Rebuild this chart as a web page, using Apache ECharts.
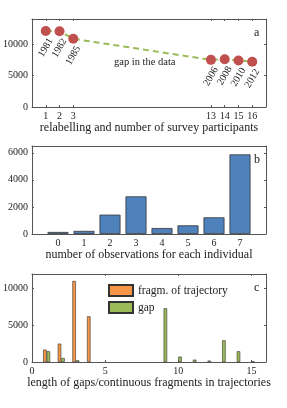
<!DOCTYPE html>
<html><head><meta charset="utf-8">
<script src="https://cdn.jsdelivr.net/npm/echarts@6/dist/echarts.min.js"></script>
<style>html,body{margin:0;padding:0;background:#fff}#c{width:287px;height:408px}</style>
</head><body><div id="c"></div>
<script>
// Panel a
const aX = [1, 2, 3, 13, 14, 15, 16];
const aYears = ['1981', '1982', '1985', '2006', '2008', '2010', '2012'];
const aVals = [12100, 12050, 10850, 7500, 7600, 7400, 7200];
// Panel b
const bCats = [0, 1, 2, 3, 4, 5, 6, 7];
const bVals = [150, 230, 1430, 2780, 440, 640, 1230, 5880];
// Panel c
const cFragX = [1, 2, 3, 4];
const cFragVals = [1690, 2500, 11040, 6230];
const cGapX = [1, 2, 3, 9, 10, 11, 12, 13, 14, 15];
const cGapVals = [1460, 550, 230, 7320, 730, 320, 190, 2960, 1460, 80];

const F = 'Liberation Serif, Times New Roman, serif';
const axisCol = '#555';
const tickFont = {fontFamily: F, fontSize: 10, color: '#222', margin: 4, formatter: v => String(v)};
const nameStyle = {fontFamily: F, fontSize: 12, color: '#222'};

function xAx(grid, min, max, ticks, name, showTicks) {
  return [{
    type: 'value', gridIndex: grid, min: min, max: max, position: 'bottom',
    name: name, nameLocation: 'middle', nameGap: 14, nameTextStyle: nameStyle,
    axisLine: {show: true, onZero: false, lineStyle: {color: axisCol}},
    axisTick: {show: showTicks, inside: true, length: 2, customValues: ticks, lineStyle: {color: axisCol}},
    axisLabel: Object.assign({customValues: ticks}, tickFont),
    splitLine: {show: false}
  }, {
    type: 'value', gridIndex: grid, min: min, max: max, position: 'top',
    axisLine: {show: true, onZero: false, lineStyle: {color: axisCol}},
    axisTick: {show: showTicks, inside: true, length: 2, customValues: ticks, lineStyle: {color: axisCol}},
    axisLabel: {show: false}, splitLine: {show: false}
  }];
}
function yAx(grid, max, ticks) {
  return [{
    type: 'value', gridIndex: grid, min: 0, max: max, position: 'left',
    axisLine: {show: true, onZero: false, lineStyle: {color: axisCol}},
    axisTick: {show: true, inside: true, length: 2, customValues: ticks, lineStyle: {color: axisCol}},
    axisLabel: Object.assign({customValues: ticks}, tickFont),
    splitLine: {show: false}
  }, {
    type: 'value', gridIndex: grid, min: 0, max: max, position: 'right',
    axisLine: {show: true, onZero: false, lineStyle: {color: axisCol}},
    axisTick: {show: true, inside: true, length: 2, customValues: ticks, lineStyle: {color: axisCol}},
    axisLabel: {show: false}, splitLine: {show: false}
  }];
}

const chart = echarts.init(document.getElementById('c'), null, {renderer: 'canvas'});
const option = {
  animation: false,
  backgroundColor: '#fff',
  textStyle: {fontFamily: F},
  grid: [
    {left: 32, top: 19, width: 234, height: 88},
    {left: 32, top: 146, width: 234, height: 88},
    {left: 31, top: 274, width: 235, height: 88}
  ],
  xAxis: [].concat(
    xAx(0, 0, 17, aX, 'relabelling and number of survey participants', true),
    xAx(1, -1, 8, bCats, 'number of observations for each individual', false),
    xAx(2, 0, 16, [0, 5, 10, 15], 'length of gaps/continuous fragments in trajectories', true)
  ),
  yAxis: [].concat(
    yAx(0, 14000, [0, 5000, 10000]),
    yAx(1, 6500, [0, 2000, 4000, 6000]),
    yAx(2, 12000, [0, 5000, 10000])
  ),
  legend: {
    orient: 'vertical', left: 103, top: 279, itemWidth: 24, itemHeight: 11, itemGap: 4,
    icon: 'rect',
    textStyle: {fontFamily: F, fontSize: 11.5, color: '#222'},
    data: ['fragm. of trajectory', 'gap']
  },
  series: [
    {
      type: 'line', xAxisIndex: 0, yAxisIndex: 0,
      data: aX.map((x, i) => ({value: [x, aVals[i]], name: aYears[i]})),
      lineStyle: {color: '#9bbb59', width: 2, type: [6, 4]},
      symbol: 'circle', symbolSize: 10,
      itemStyle: {color: '#c0504d'},
      label: {
        show: true, formatter: p => p.name, position: [10, 13],
        align: 'right', verticalAlign: 'middle', rotate: 60,
        fontFamily: F, fontSize: 10, color: '#222'
      },
      z: 3
    },
    {
      type: 'bar', xAxisIndex: 2, yAxisIndex: 2,
      data: bCats.map((c, i) => [c, bVals[i]]),
      barWidth: 21,
      itemStyle: {color: '#4f81bd', borderColor: '#333', borderWidth: 0.8}
    },
    {
      name: 'fragm. of trajectory', type: 'bar', xAxisIndex: 4, yAxisIndex: 4,
      data: cFragX.map((x, i) => [x, cFragVals[i]]),
      barWidth: 3.5, barGap: '0%',
      itemStyle: {color: '#f79646', borderColor: '#333', borderWidth: 0.6}
    },
    {
      name: 'gap', type: 'bar', xAxisIndex: 4, yAxisIndex: 4,
      data: cGapX.map((x, i) => [x, cGapVals[i]]),
      barWidth: 3.5, barGap: '0%',
      itemStyle: {color: '#9bbb59', borderColor: '#333', borderWidth: 0.6}
    }
  ],
  graphic: [
    {type: 'text', left: 254, top: 27, style: {text: 'a', font: '12px ' + F, fill: '#222'}},
    {type: 'text', left: 254, top: 154, style: {text: 'b', font: '12px ' + F, fill: '#222'}},
    {type: 'text', left: 254, top: 282, style: {text: 'c', font: '12px ' + F, fill: '#222'}},
    {type: 'text', left: 114, top: 57, style: {text: 'gap in the data', font: '10.5px ' + F, fill: '#222'}}
  ]
};
chart.setOption(option);
</script></body></html>
